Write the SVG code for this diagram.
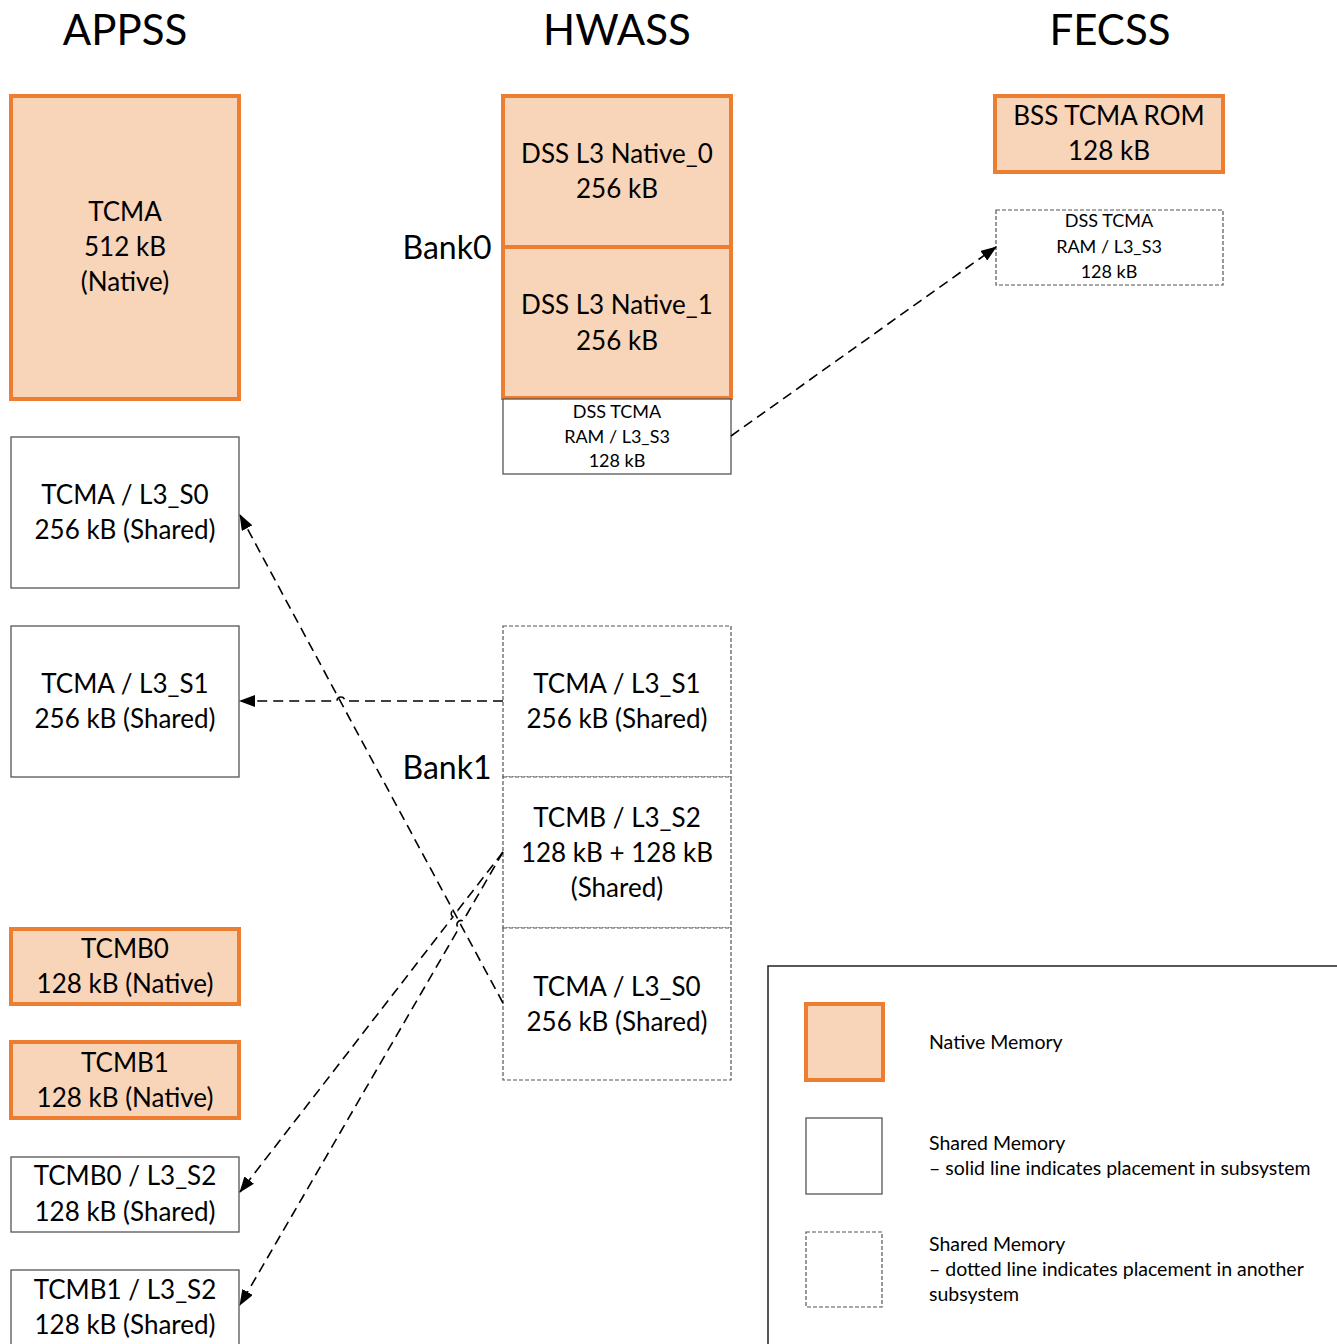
<svg xmlns="http://www.w3.org/2000/svg" width="1337" height="1344" viewBox="0 0 1337 1344">
  <style>
    text { font-family: Lato, "Open Sans", "Liberation Sans", sans-serif; fill: #000; text-anchor: middle; }
    .title { font-size: 42px; }
    .bank { font-size: 32px; }
    .lbl { font-size: 26px; }
    .sm { font-size: 18px; }
    .leg { font-size: 19.5px; text-anchor: start; }
    .native { fill: #F8D5B8; stroke: #ED7D31; stroke-width: 4; }
    .shared { fill: #fff; stroke: #555; stroke-width: 1.3; }
    .remote { fill: #fff; stroke: #555; stroke-width: 1.2; stroke-dasharray: 4 2; }
    .conn { fill: none; stroke: #000; stroke-width: 1.6; stroke-dasharray: 10 6; }
  </style>
  <defs>
    <marker id="arrow" markerUnits="userSpaceOnUse" markerWidth="16" markerHeight="12" refX="15" refY="6" orient="auto">
      <path d="M0,0 L16,6 L0,12 Z" fill="#000"/>
    </marker>
  </defs>
  <rect width="1337" height="1344" fill="#fff"/>

  <!-- column titles -->
  <text class="title" x="125" y="45">APPSS</text>
  <text class="title" x="617" y="45">HWASS</text>
  <text class="title" x="1110" y="45">FECSS</text>

  <!-- APPSS -->
  <g id="appss-tcma-native">
    <rect class="native" x="11" y="96" width="228" height="303"/>
    <text class="lbl" x="125" y="221">TCMA</text>
    <text class="lbl" x="125" y="256">512 kB</text>
    <text class="lbl" x="125" y="291">(Native)</text>
  </g>
  <g id="appss-tcma-s0">
    <rect class="shared" x="11" y="437" width="228" height="151"/>
    <text class="lbl" x="125" y="504">TCMA / L3_S0</text>
    <text class="lbl" x="125" y="539">256 kB (Shared)</text>
  </g>
  <g id="appss-tcma-s1">
    <rect class="shared" x="11" y="626" width="228" height="151"/>
    <text class="lbl" x="125" y="693">TCMA / L3_S1</text>
    <text class="lbl" x="125" y="728">256 kB (Shared)</text>
  </g>
  <g id="appss-tcmb0-native">
    <rect class="native" x="11" y="929" width="228" height="75"/>
    <text class="lbl" x="125" y="958">TCMB0</text>
    <text class="lbl" x="125" y="993">128 kB (Native)</text>
  </g>
  <g id="appss-tcmb1-native">
    <rect class="native" x="11" y="1042" width="228" height="76"/>
    <text class="lbl" x="125" y="1072">TCMB1</text>
    <text class="lbl" x="125" y="1107">128 kB (Native)</text>
  </g>
  <g id="appss-tcmb0-s2">
    <rect class="shared" x="11" y="1157" width="228" height="75"/>
    <text class="lbl" x="125" y="1185">TCMB0 / L3_S2</text>
    <text class="lbl" x="125" y="1221">128 kB (Shared)</text>
  </g>
  <g id="appss-tcmb1-s2">
    <rect class="shared" x="11" y="1270" width="228" height="80"/>
    <text class="lbl" x="125" y="1299">TCMB1 / L3_S2</text>
    <text class="lbl" x="125" y="1334">128 kB (Shared)</text>
  </g>

  <!-- HWASS -->
  <text class="bank" x="447" y="259">Bank0</text>
  <text class="bank" x="447" y="779">Bank1</text>
  <g id="hwass-native0">
    <rect class="native" x="503" y="96" width="228" height="151"/>
    <text class="lbl" x="617" y="163">DSS L3 Native_0</text>
    <text class="lbl" x="617" y="198">256 kB</text>
  </g>
  <g id="hwass-native1">
    <rect class="native" x="503" y="247" width="228" height="151"/>
    <text class="lbl" x="617" y="314">DSS L3 Native_1</text>
    <text class="lbl" x="617" y="350">256 kB</text>
  </g>
  <g id="hwass-tcma-ram">
    <rect class="shared" x="503" y="399" width="228" height="75"/>
    <text class="sm" x="617" y="418">DSS TCMA</text>
    <text class="sm" x="617" y="443">RAM / L3_S3</text>
    <text class="sm" x="617" y="467">128 kB</text>
  </g>
  <g id="hwass-tcma-s1">
    <rect class="remote" x="503" y="626" width="228" height="151"/>
    <text class="lbl" x="617" y="693">TCMA / L3_S1</text>
    <text class="lbl" x="617" y="728">256 kB (Shared)</text>
  </g>
  <g id="hwass-tcmb-s2">
    <rect class="remote" x="503" y="777" width="228" height="151"/>
    <text class="lbl" x="617" y="827">TCMB / L3_S2</text>
    <text class="lbl" x="617" y="862">128 kB + 128 kB</text>
    <text class="lbl" x="617" y="897">(Shared)</text>
  </g>
  <g id="hwass-tcma-s0">
    <rect class="remote" x="503" y="928" width="228" height="152"/>
    <text class="lbl" x="617" y="996">TCMA / L3_S0</text>
    <text class="lbl" x="617" y="1031">256 kB (Shared)</text>
  </g>

  <!-- FECSS -->
  <g id="fecss-rom">
    <rect class="native" x="995" y="96" width="228" height="76"/>
    <text class="lbl" x="1109" y="125">BSS TCMA ROM</text>
    <text class="lbl" x="1109" y="160">128 kB</text>
  </g>
  <g id="fecss-tcma-ram">
    <rect class="remote" x="996" y="210" width="227" height="75"/>
    <text class="sm" x="1109" y="227">DSS TCMA</text>
    <text class="sm" x="1109" y="253">RAM / L3_S3</text>
    <text class="sm" x="1109" y="278">128 kB</text>
  </g>

  <!-- connectors -->
  <g id="connectors">
    <path class="conn" d="M731,436 L996,247" marker-end="url(#arrow)"/>
    <path class="conn" d="M503,1003 L240,515" marker-end="url(#arrow)"/>
    <path class="conn" d="M503,701 L345,701 A4,4 0 0 0 337,701 L240,701" marker-end="url(#arrow)"/>
    <path class="conn" d="M503,852 L457.7,910.5 A4,4 0 0 0 452.9,916.9 L240,1192" marker-end="url(#arrow)"/>
    <path class="conn" d="M503,852 L463,921 A4,4 0 0 0 459,928 L240,1305" marker-end="url(#arrow)"/>
  </g>

  <!-- legend -->
  <g id="legend">
    <rect x="768" y="966" width="580" height="400" fill="#fff" stroke="#222" stroke-width="1.5"/>
    <rect class="native" x="806" y="1004" width="77" height="76"/>
    <rect class="shared" x="806" y="1118" width="76" height="76"/>
    <rect class="remote" x="806" y="1232" width="76" height="75"/>
    <text class="leg" x="929" y="1049">Native Memory</text>
    <text class="leg" x="929" y="1150">Shared Memory</text>
    <text class="leg" x="929" y="1175">– solid line indicates placement in subsystem</text>
    <text class="leg" x="929" y="1251">Shared Memory</text>
    <text class="leg" x="929" y="1276">– dotted line indicates placement in another</text>
    <text class="leg" x="929" y="1301">subsystem</text>
  </g>
</svg>
